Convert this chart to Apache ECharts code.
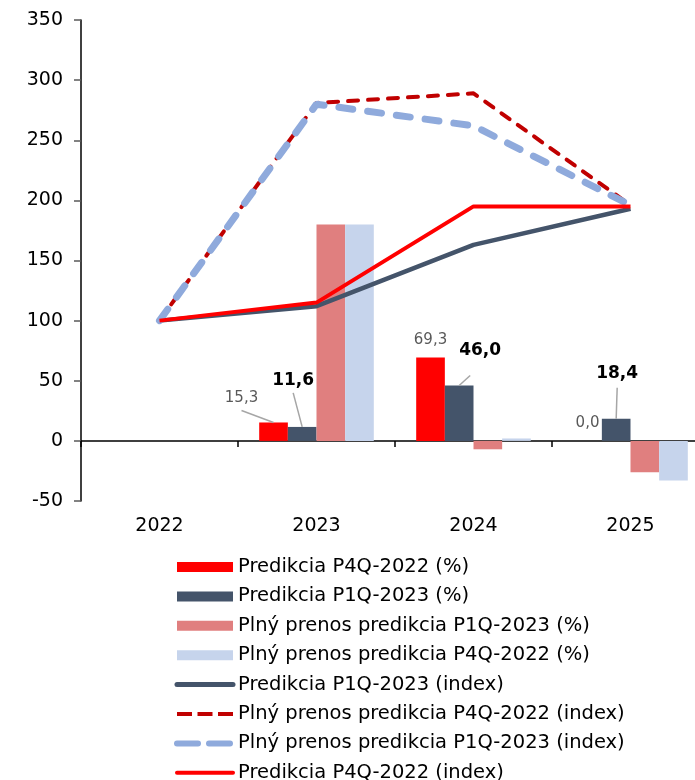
<!DOCTYPE html>
<html>
<head>
<meta charset="utf-8">
<script src="https://cdn.jsdelivr.net/npm/echarts@6/dist/echarts.min.js"></script>
<style>
  html, body { margin: 0; padding: 0; background: #ffffff; }
  #chart { width: 695px; height: 780px; }
</style>
</head>
<body>
<div id="chart"></div>
<script>
// Categories (years)
const years = ['2022', '2023', '2024', '2025'];

// Year-on-year changes (%), bars
const predP4Q2022Pct = [null, 15.3, 69.3, 0.0];
const predP1Q2023Pct = [null, 11.6, 46.0, 18.4];
const fullP1Q2023Pct = [null, 180, -7, -26];
const fullP4Q2022Pct = [null, 180, 2, -33];

// Index levels (2022 = 100), lines
const predP1Q2023Idx = [100, 112, 163, 193];
const fullP4Q2022Idx = [100, 281, 289, 196];
const fullP1Q2023Idx = [100, 280, 262, 196];
const predP4Q2022Idx = [100, 115, 195, 195];

// Value axis range
const yMin = -50, yMax = 350, yStep = 50;

const FONT = 'DejaVu Sans';
const LABEL_DIST = 5;
const fmt = v => v.toFixed(1).replace('.', ',');

// Label nudges per data index: [dx, dy, leader? , leader start offset x, y from label bottom centre]
const shiftP4Q = { 1: [-32, -12, true, 0, 5], 2: [0, -5, false], 3: [0, -5, false] };
const shiftP1Q = { 1: [-9, -33, true, 0, 4], 2: [21, -21, true, -10, 16], 3: [1, -32, true, 0, 6] };

function labelledData(values) {
  return values.map(v => (v === null ? null : { value: v, label: { show: true } }));
}

const layoutWith = shifts => p => {
  const s = shifts[p.dataIndex] || [0, 0];
  return { dx: s[0], dy: s[1] };
};

const chart = echarts.init(document.getElementById('chart'), null, { renderer: 'canvas' });

const lineLegendStyle = { opacity: 0 };

const option = {
  animation: false,
  backgroundColor: '#ffffff',
  textStyle: { fontFamily: FONT },
  grid: {
    left: 81, right: -14, top: 20, bottom: 279,
    outerBoundsMode: 'none'
  },
  legend: {
    orient: 'vertical',
    left: 174,
    top: 557,
    height: 400,
    padding: 0,
    itemWidth: 56,
    itemHeight: 10,
    itemGap: 9.4,
    textStyle: { fontFamily: FONT, fontSize: 19.5, color: '#000000' },
    data: [
      { name: 'Predikcia P4Q-2022 (%)', icon: 'rect' },
      { name: 'Predikcia P1Q-2023 (%)', icon: 'rect' },
      { name: 'Plný prenos predikcia P1Q-2023 (%)', icon: 'rect' },
      { name: 'Plný prenos predikcia P4Q-2022 (%)', icon: 'rect' },
      { name: 'Predikcia P1Q-2023 (index)', itemStyle: lineLegendStyle,
        lineStyle: { width: 5, cap: 'round' } },
      { name: 'Plný prenos predikcia P4Q-2022 (index)', itemStyle: lineLegendStyle,
        lineStyle: { width: 4, type: [15, 5.5], cap: 'butt' } },
      { name: 'Plný prenos predikcia P1Q-2023 (index)', itemStyle: lineLegendStyle,
        lineStyle: { width: 6, type: [21, 11], cap: 'round' } },
      { name: 'Predikcia P4Q-2022 (index)', itemStyle: lineLegendStyle,
        lineStyle: { width: 4, cap: 'round' } }
    ]
  },
  xAxis: {
    type: 'category',
    data: years,
    boundaryGap: true,
    axisLine: { onZero: true, lineStyle: { color: '#000000', width: 1.5 } },
    axisTick: { show: true, length: 6, lineStyle: { color: '#000000', width: 1.5 } },
    axisLabel: { margin: 16, fontSize: 19, color: '#000000', fontFamily: FONT },
    splitLine: { show: false }
  },
  yAxis: {
    type: 'value',
    min: yMin, max: yMax, interval: yStep,
    axisLine: { show: true, lineStyle: { color: '#000000', width: 1.5 } },
    axisTick: { show: true, length: 7, lineStyle: { color: '#595959', width: 1.5 } },
    axisLabel: { margin: 18, fontSize: 19, color: '#000000', fontFamily: FONT },
    splitLine: { show: false }
  },
  series: [
    {
      name: 'Predikcia P4Q-2022 (%)',
      type: 'bar',
      barGap: '0%',
      barCategoryGap: '27%',
      itemStyle: { color: '#FF0000' },
      data: labelledData(predP4Q2022Pct),
      label: {
        position: 'top', distance: LABEL_DIST,
        fontSize: 15, color: '#595959', fontFamily: FONT,
        formatter: p => fmt(p.value)
      },
      labelLayout: layoutWith(shiftP4Q)
    },
    {
      name: 'Predikcia P1Q-2023 (%)',
      type: 'bar',
      barGap: '0%',
      barCategoryGap: '27%',
      itemStyle: { color: '#44546A' },
      data: labelledData(predP1Q2023Pct),
      label: {
        position: 'top', distance: LABEL_DIST,
        fontSize: 17, fontWeight: 'bold', color: '#000000', fontFamily: FONT,
        formatter: p => fmt(p.value)
      },
      labelLayout: layoutWith(shiftP1Q)
    },
    {
      name: 'Plný prenos predikcia P1Q-2023 (%)',
      type: 'bar',
      barGap: '0%',
      barCategoryGap: '27%',
      itemStyle: { color: '#E07F7F' },
      data: fullP1Q2023Pct
    },
    {
      name: 'Plný prenos predikcia P4Q-2022 (%)',
      type: 'bar',
      barGap: '0%',
      barCategoryGap: '27%',
      itemStyle: { color: '#C6D4EC' },
      data: fullP4Q2022Pct
    },
    {
      name: 'Predikcia P1Q-2023 (index)',
      type: 'line',
      symbol: 'none',
      itemStyle: { color: '#44546A' },
      lineStyle: { color: '#44546A', width: 4.5 },
      data: predP1Q2023Idx
    },
    {
      name: 'Plný prenos predikcia P4Q-2022 (index)',
      type: 'line',
      symbol: 'none',
      itemStyle: { color: '#C00000' },
      lineStyle: { color: '#C00000', width: 4, type: [10, 10], cap: 'round' },
      data: fullP4Q2022Idx
    },
    {
      name: 'Plný prenos predikcia P1Q-2023 (index)',
      type: 'line',
      symbol: 'none',
      itemStyle: { color: '#8FAADC' },
      lineStyle: { color: '#8FAADC', width: 7, type: [14, 15], cap: 'round' },
      data: fullP1Q2023Idx
    },
    {
      name: 'Predikcia P4Q-2022 (index)',
      type: 'line',
      symbol: 'none',
      itemStyle: { color: '#FF0000' },
      lineStyle: { color: '#FF0000', width: 4 },
      data: predP4Q2022Idx
    }
  ]
};

chart.setOption(option);

// Leader lines: from just below each moved label to the top centre of its bar,
// using the bar geometry the library laid out.
function leaderLines(seriesIndex, shifts) {
  const data = chart.getModel().getSeriesByIndex(seriesIndex).getData();
  const out = [];
  Object.keys(shifts).forEach(k => {
    const i = +k;
    const s = shifts[i];
    if (!s[2]) return;
    const lay = data.getItemLayout(i);
    if (!lay) return;
    const cx = lay.x + lay.width / 2;
    const top = Math.min(lay.y, lay.y + lay.height);
    const sx = cx + s[0] + s[3];
    const sy = top - LABEL_DIST + s[1] + s[4];
    out.push({
      type: 'line',
      z: 50,
      silent: true,
      shape: { x1: sx, y1: sy, x2: cx, y2: top },
      style: { stroke: '#A6A6A6', lineWidth: 1.5 }
    });
  });
  return out;
}

chart.setOption({
  graphic: leaderLines(0, shiftP4Q).concat(leaderLines(1, shiftP1Q))
});
</script>
</body>
</html>
